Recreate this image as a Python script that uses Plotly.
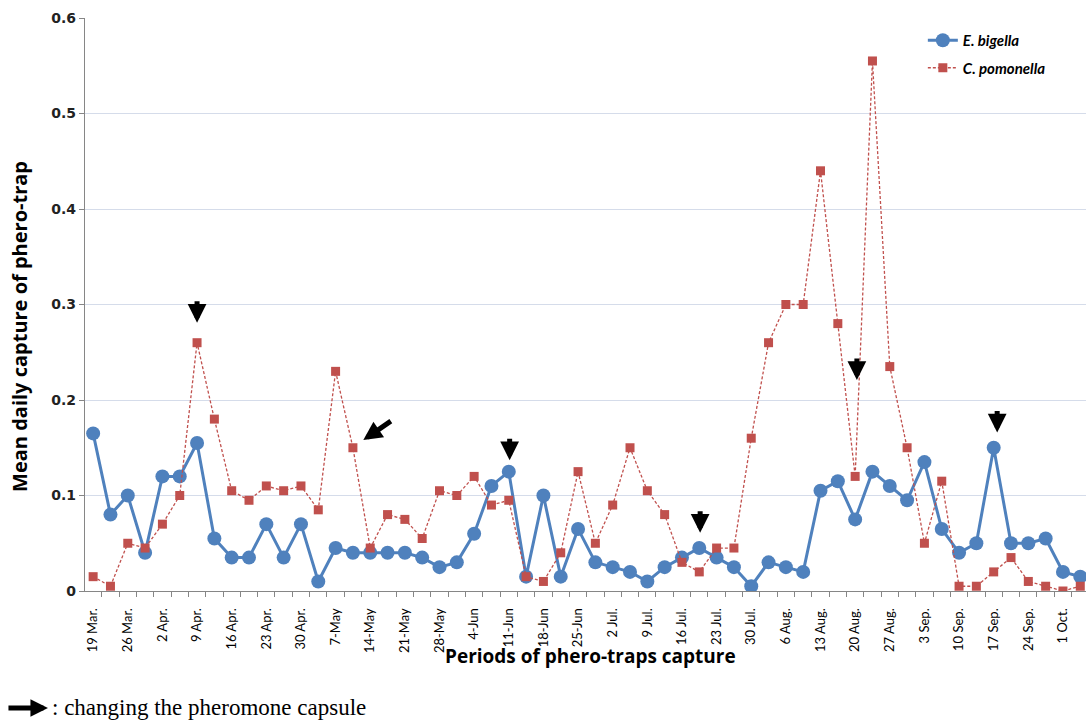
import plotly.graph_objects as go

# ---- data ----
tick_labels = ["19 Mar.", "26 Mar.", "2 Apr.", "9 Apr.", "16 Apr.", "23 Apr.", "30 Apr.",
               "7-May", "14-May", "21-May", "28-May", "4-Jun", "11-Jun", "18-Jun", "25-Jun",
               "2 Jul.", "9 Jul.", "16 Jul.", "23 Jul.", "30 Jul.", "6 Aug.", "13 Aug.",
               "20 Aug.", "27 Aug.", "3 Sep.", "10 Sep.", "17 Sep.", "24 Sep.", "1 Oct."]

e_bigella = [0.165, 0.08, 0.10, 0.04, 0.12, 0.12, 0.155, 0.055, 0.035, 0.035,
             0.07, 0.035, 0.07, 0.01, 0.045, 0.04, 0.04, 0.04, 0.04, 0.035,
             0.025, 0.03, 0.06, 0.11, 0.125, 0.015, 0.10, 0.015, 0.065, 0.03,
             0.025, 0.02, 0.01, 0.025, 0.035, 0.045, 0.035, 0.025, 0.005, 0.03,
             0.025, 0.02, 0.105, 0.115, 0.075, 0.125, 0.11, 0.095, 0.135, 0.065,
             0.04, 0.05, 0.15, 0.05, 0.05, 0.055, 0.02, 0.015]

c_pomonella = [0.015, 0.005, 0.05, 0.045, 0.07, 0.10, 0.26, 0.18, 0.105, 0.095,
               0.11, 0.105, 0.11, 0.085, 0.23, 0.15, 0.045, 0.08, 0.075, 0.055,
               0.105, 0.10, 0.12, 0.09, 0.095, 0.015, 0.01, 0.04, 0.125, 0.05,
               0.09, 0.15, 0.105, 0.08, 0.03, 0.02, 0.045, 0.045, 0.16, 0.26,
               0.30, 0.30, 0.44, 0.28, 0.12, 0.555, 0.235, 0.15, 0.05, 0.115,
               0.005, 0.005, 0.02, 0.035, 0.01, 0.005, 0.0, 0.005]

# capsule-change arrows: period index, value at arrow tip, tail offset (px)
arrow_idx = [6, 15.6, 24.05, 35.05, 44.1, 52.2]
arrow_tip = [0.281, 0.158, 0.137, 0.061, 0.221, 0.166]
arrow_dx = [0, 29, 0, 0, 0, 0]
arrow_dy = [-23, -20, -23, -23, -23, -23]

periods = list(range(len(e_bigella)))
tick_pos = list(range(0, 2 * len(tick_labels), 2))

BLUE = "#4F81BD"
RED = "#C0504D"
AXIS = "#868686"
GRID = "#D5DCEA"

fig = go.Figure()
fig.add_trace(go.Scatter(
    x=periods, y=e_bigella, name="<b><i>E. bigella</i></b>", mode="lines+markers",
    line=dict(color=BLUE, width=3), marker=dict(symbol="circle", size=14, color=BLUE),
    legendgroup="a"))
fig.add_trace(go.Scatter(
    x=periods, y=c_pomonella, name="<b><i>C. pomonella</i></b>", mode="lines+markers",
    line=dict(color=RED, width=1.3, dash="3px,2px"),
    marker=dict(symbol="square", size=9, color=RED),
    legendgroup="b"))

annotations = []
for xi, yi, dx, dy in zip(arrow_idx, arrow_tip, arrow_dx, arrow_dy):
    annotations.append(dict(x=xi, y=yi, xref="x", yref="y", text="", showarrow=True,
                            ax=dx, ay=dy, arrowhead=2, arrowsize=0.75, arrowwidth=5,
                            arrowcolor="black", standoff=0))

# bottom key
annotations.append(dict(x=-0.037, y=-0.204, xref="paper", yref="paper", text="",
                        showarrow=True, ax=-41, ay=0, arrowhead=2, arrowsize=0.7,
                        arrowwidth=5, arrowcolor="black", standoff=0))
annotations.append(dict(x=-0.035, y=-0.204, xref="paper", yref="paper",
                        text=": changing the pheromone capsule", showarrow=False,
                        xanchor="left", yanchor="middle",
                        font=dict(family="Liberation Serif", size=23, color="black")))
# axis titles
annotations.append(dict(x=-0.065, y=0.4625, xref="paper", yref="paper",
                        text="<b>Mean daily capture of phero-trap</b>", showarrow=False,
                        textangle=-90, xanchor="center", yanchor="middle",
                        font=dict(family="Open Sans", size=20, color="black")))
annotations.append(dict(x=0.5045, y=-0.1135, xref="paper", yref="paper",
                        text="<b>Periods of phero-traps capture</b>", showarrow=False,
                        xanchor="center", yanchor="middle",
                        font=dict(family="Open Sans", size=19, color="black")))

fig.update_layout(
    width=1086, height=721,
    margin=dict(l=85, r=0, t=18, b=130),
    paper_bgcolor="white", plot_bgcolor="white",
    showlegend=True,
    legend=dict(x=0.837, y=0.9895, xanchor="left", yanchor="top",
                font=dict(family="Lato", size=15, color="black"),
                bgcolor="rgba(0,0,0,0)", tracegroupgap=5),
    annotations=annotations,
)
fig.update_xaxes(
    range=[-0.47, 57.33], tickmode="array", tickvals=tick_pos, ticktext=tick_labels,
    tickangle=-90, ticks="outside", ticklen=11, tickcolor="rgba(0,0,0,0)",
    tickfont=dict(family="Lato", size=13, color="black"),
    showline=True, linecolor=AXIS, linewidth=1.2, showgrid=False, zeroline=False,
    minor=dict(tickmode="linear", tick0=0.5, dtick=1, ticks="outside", ticklen=5,
               tickcolor=AXIS, showgrid=False),
)
fig.update_yaxes(
    range=[0, 0.6], tickmode="array", tickvals=[0, 0.1, 0.2, 0.3, 0.4, 0.5, 0.6],
    ticktext=["<b>0</b>", "<b>0.1</b>", "<b>0.2</b>", "<b>0.3</b>", "<b>0.4</b>",
              "<b>0.5</b>", "<b>0.6</b>"],
    ticks="outside", ticklen=5, tickcolor=AXIS,
    tickfont=dict(family="DejaVu Sans", size=14, color="#222222"),
    showline=True, linecolor=AXIS, linewidth=1.2, showgrid=True, gridcolor=GRID,
    gridwidth=1.2, zeroline=False,
)

fig.write_html("out.html", config={"displayModeBar": False},
               post_script="document.body.style.margin='0';document.body.style.overflow='hidden';")
